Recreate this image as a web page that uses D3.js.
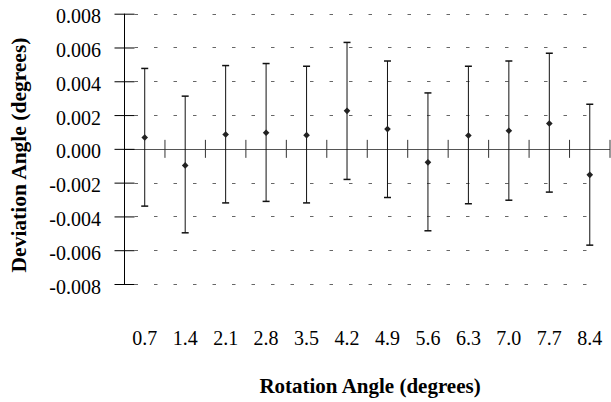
<!DOCTYPE html>
<html>
<head>
<meta charset="utf-8">
<script src="https://cdn.jsdelivr.net/npm/d3@7"></script>
<style>
  body { margin: 0; background: #fff; }
  text { font-family: "Liberation Serif", "Times New Roman", serif; }
</style>
</head>
<body>
<script>
// chart values
var angles = ["0.7", "1.4", "2.1", "2.8", "3.5", "4.2", "4.9", "5.6", "6.3", "7.0", "7.7", "8.4"];
var means  = [0.00067, -0.00098, 0.00085, 0.00095, 0.00081, 0.00225, 0.00117, -0.00080, 0.00079, 0.00107, 0.00150, -0.00154];
var uppers = [0.00476, 0.00312, 0.00493, 0.00505, 0.00489, 0.00630, 0.00520, 0.00331, 0.00489, 0.00520, 0.00566, 0.00264];
var lowers = [-0.00339, -0.00497, -0.00320, -0.00311, -0.00320, -0.00181, -0.00288, -0.00485, -0.00325, -0.00304, -0.00256, -0.00570];
var yTicks = [0.008, 0.006, 0.004, 0.002, 0, -0.002, -0.004, -0.006, -0.008];

var width = 611, height = 402;
var plotLeft = 124.5, plotRight = 610, plotTop = 13.7, plotBottom = 284;

var data = angles.map(function(a, i) {
  return {angle: a, mean: means[i], hi: uppers[i], lo: lowers[i]};
});

var x = d3.scaleBand()
    .domain(angles)
    .range([plotLeft, plotRight]);

var y = d3.scaleLinear()
    .domain([-0.008, 0.008])
    .range([plotBottom, plotTop]);

// plain hyphen for negatives, as in the original
var fmt = d3.formatLocale({decimal: ".", thousands: ",", grouping: [3], currency: ["", ""], minus: "-"}).format(".3f");

var svg = d3.select("body").append("svg")
    .attr("width", width)
    .attr("height", height);

// dashed gridlines
svg.append("g")
  .selectAll("line")
  .data(yTicks.filter(d => d !== 0))
  .join("line")
    .attr("x1", plotLeft + 10)
    .attr("x2", 602)
    .attr("y1", d => Math.round(y(d)) + 0.5)
    .attr("y2", d => Math.round(y(d)) + 0.5)
    .attr("stroke", "#666")
    .attr("stroke-width", 1)
    .attr("stroke-dasharray", "3.5,16");

// zero line
svg.append("line")
    .attr("x1", plotLeft)
    .attr("x2", plotRight)
    .attr("y1", Math.round(y(0)) + 0.5)
    .attr("y2", Math.round(y(0)) + 0.5)
    .attr("stroke", "#555");

// category ticks on zero line
svg.append("g")
  .selectAll("line")
  .data(angles)
  .join("line")
    .attr("x1", d => x(d) + x.bandwidth())
    .attr("x2", d => x(d) + x.bandwidth())
    .attr("y1", y(0) - 9)
    .attr("y2", y(0) + 9)
    .attr("stroke", "#333");

// y axis
var yAxis = svg.append("g")
    .attr("transform", `translate(${plotLeft},0)`)
    .call(d3.axisLeft(y).tickValues(yTicks).tickFormat(fmt).tickSize(10).tickPadding(13.5));
yAxis.select(".domain").remove();
yAxis.selectAll(".tick line").attr("x1", -10).attr("x2", 10).attr("stroke", "#000");
yAxis.selectAll(".tick text")
    .style("font-family", "Liberation Serif, serif")
    .style("font-size", "20px")
    .attr("dy", "0.45em")
    .attr("fill", "#000");
svg.append("line")
    .attr("x1", plotLeft).attr("x2", plotLeft)
    .attr("y1", y(0.008)).attr("y2", y(-0.008))
    .attr("stroke", "#000");

// error bars
var cx = d => x(d.angle) + x.bandwidth() / 2;
var bars = svg.append("g").selectAll("g")
  .data(data)
  .join("g")
    .attr("stroke", "#111");
bars.append("line")
    .attr("x1", cx).attr("x2", cx)
    .attr("y1", d => y(d.hi)).attr("y2", d => y(d.lo));
bars.append("line")
    .attr("x1", d => cx(d) - 3.5).attr("x2", d => cx(d) + 3.5)
    .attr("y1", d => y(d.hi)).attr("y2", d => y(d.hi))
    .attr("stroke-width", 1.5);
bars.append("line")
    .attr("x1", d => cx(d) - 3.5).attr("x2", d => cx(d) + 3.5)
    .attr("y1", d => y(d.lo)).attr("y2", d => y(d.lo))
    .attr("stroke-width", 1.5);

// diamond markers
svg.append("g")
  .selectAll("path")
  .data(data)
  .join("path")
    .attr("d", d3.symbol(d3.symbolDiamond2, 28))
    .attr("transform", d => `translate(${cx(d)},${y(d.mean)})`)
    .attr("fill", "#222");

// x labels
svg.append("g")
  .selectAll("text")
  .data(angles)
  .join("text")
    .attr("x", d => x(d) + x.bandwidth() / 2)
    .attr("y", 345)
    .attr("text-anchor", "middle")
    .style("font-size", "20px")
    .text(d => d);

// axis titles
svg.append("text")
    .attr("x", 370)
    .attr("y", 393)
    .attr("text-anchor", "middle")
    .style("font-size", "21px")
    .style("font-weight", "bold")
    .text("Rotation Angle (degrees)");

svg.append("text")
    .attr("transform", "translate(26,155) rotate(-90)")
    .attr("text-anchor", "middle")
    .style("font-size", "21.5px")
    .style("font-weight", "bold")
    .text("Deviation Angle (degrees)");
</script>
</body>
</html>
